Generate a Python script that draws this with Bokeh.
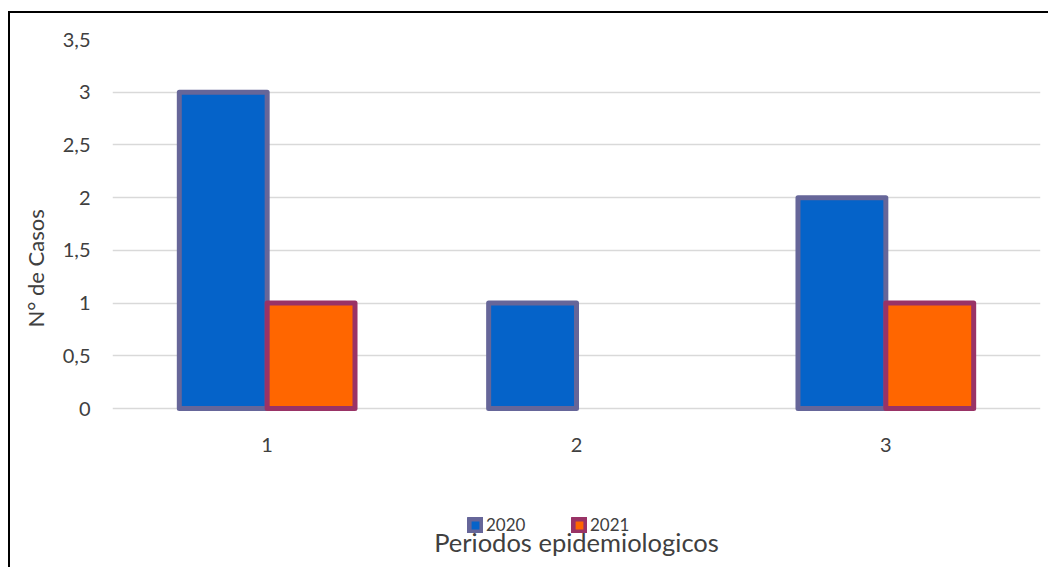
import numpy as np
from bokeh.plotting import figure
from bokeh.models import (ColumnDataSource, FactorRange, Range1d, Legend, LegendItem, Title,
                          Label, FixedTicker)
from bokeh.transform import dodge
from bokeh.embed import file_html
from bokeh.resources import INLINE

# ---- data ----
periods = ["1", "2", "3"]
series_names = ["2020", "2021"]
cases_2020 = [3, 1, 2]
cases_2021 = [1, np.nan, 1]
y_ticks = [0, 0.5, 1, 1.5, 2, 2.5, 3, 3.5]
y_tick_labels = ["0", "0,5", "1", "1,5", "2", "2,5", "3", "3,5"]
x_title = "Periodos epidemiologicos"
y_title = "N° de Casos"

FONT = "Lato"
TXT = "#404040"

# ---- layout (pixels inside the canvas) ----
W, H = 1040, 556
BORDER_L, BORDER_T = 102, 26
Y_MAX = 3.5
PLOT_PX = 369                       # height of the 0..3.5 band
px_per_unit = PLOT_PX / Y_MAX
frame_h = H - BORDER_T
y_start = -(frame_h - PLOT_PX) / px_per_unit   # frame extends below 0 to hold labels/legend

source = ColumnDataSource(dict(period=periods, c2020=cases_2020, c2021=cases_2021))

p = figure(
    x_range=FactorRange(*periods, range_padding=0),
    y_range=Range1d(y_start, Y_MAX),
    width=W, height=H,
    output_backend="svg", toolbar_location=None,
    min_border_left=BORDER_L, min_border_right=10,
    min_border_top=BORDER_T, min_border_bottom=0,
    margin=(11, 0, 0, 8),
    styles={"border-left": "2px solid black", "border-top": "2px solid black"},
)
p.outline_line_color = None
p.background_fill_color = "white"

bw = 0.284
r20 = p.vbar(x=dodge("period", -bw / 2, range=p.x_range), top="c2020", width=bw,
             source=source, fill_color="#0563C9", line_color="#666699", line_width=5,
             line_join="round")
r21 = p.vbar(x=dodge("period", bw / 2, range=p.x_range), top="c2021", width=bw,
             source=source, fill_color="#FF6600", line_color="#993366", line_width=5,
             line_join="round")

# axes
p.xgrid.grid_line_color = None
p.ygrid.grid_line_color = "#D9D9D9"
p.ygrid.grid_line_width = 1.5
p.ygrid.ticker = FixedTicker(ticks=y_ticks)
p.yaxis.ticker = FixedTicker(ticks=y_ticks)
p.yaxis.major_label_overrides = dict(zip(y_ticks, y_tick_labels))
for ax in (p.xaxis[0], p.yaxis[0]):
    ax.axis_line_color = None
    ax.major_tick_line_color = None
    ax.minor_tick_line_color = None
    ax.major_tick_out = 0
    ax.major_tick_in = 0
    ax.minor_tick_out = 0
    ax.minor_tick_in = 0
    ax.major_label_text_font = FONT
    ax.major_label_text_font_size = "20px"
    ax.major_label_text_color = TXT
p.xaxis.fixed_location = 0
p.xaxis.major_label_standoff = 29
p.yaxis.major_label_standoff = 22

# legend (inside the extended frame, below the tick labels)
legend = Legend(items=[LegendItem(label=series_names[0], renderers=[r20]),
                       LegendItem(label=series_names[1], renderers=[r21])],
                orientation="horizontal", location=(355, 34),
                glyph_width=16, glyph_height=16, label_standoff=3, label_width=85,
                label_height=20, spacing=0, padding=0, margin=0,
                border_line_color=None, background_fill_alpha=0,
                label_text_font=FONT, label_text_font_size="17px", label_text_color=TXT)
p.add_layout(legend)

# x-axis title
xt = Label(x=1.5, y=-(541 - 408) / px_per_unit, text=x_title,
           text_align="center", text_baseline="middle",
           text_font=FONT, text_font_size="25.5px", text_color=TXT)
p.add_layout(xt)

# y-axis title
yt = Title(text=y_title, align="left", vertical_align="middle", offset=242, standoff=19,
           text_font=FONT, text_font_size="22px", text_font_style="normal",
           text_color=TXT)
p.add_layout(yt, "left")

open("out.html", "w").write(file_html(p, INLINE))
